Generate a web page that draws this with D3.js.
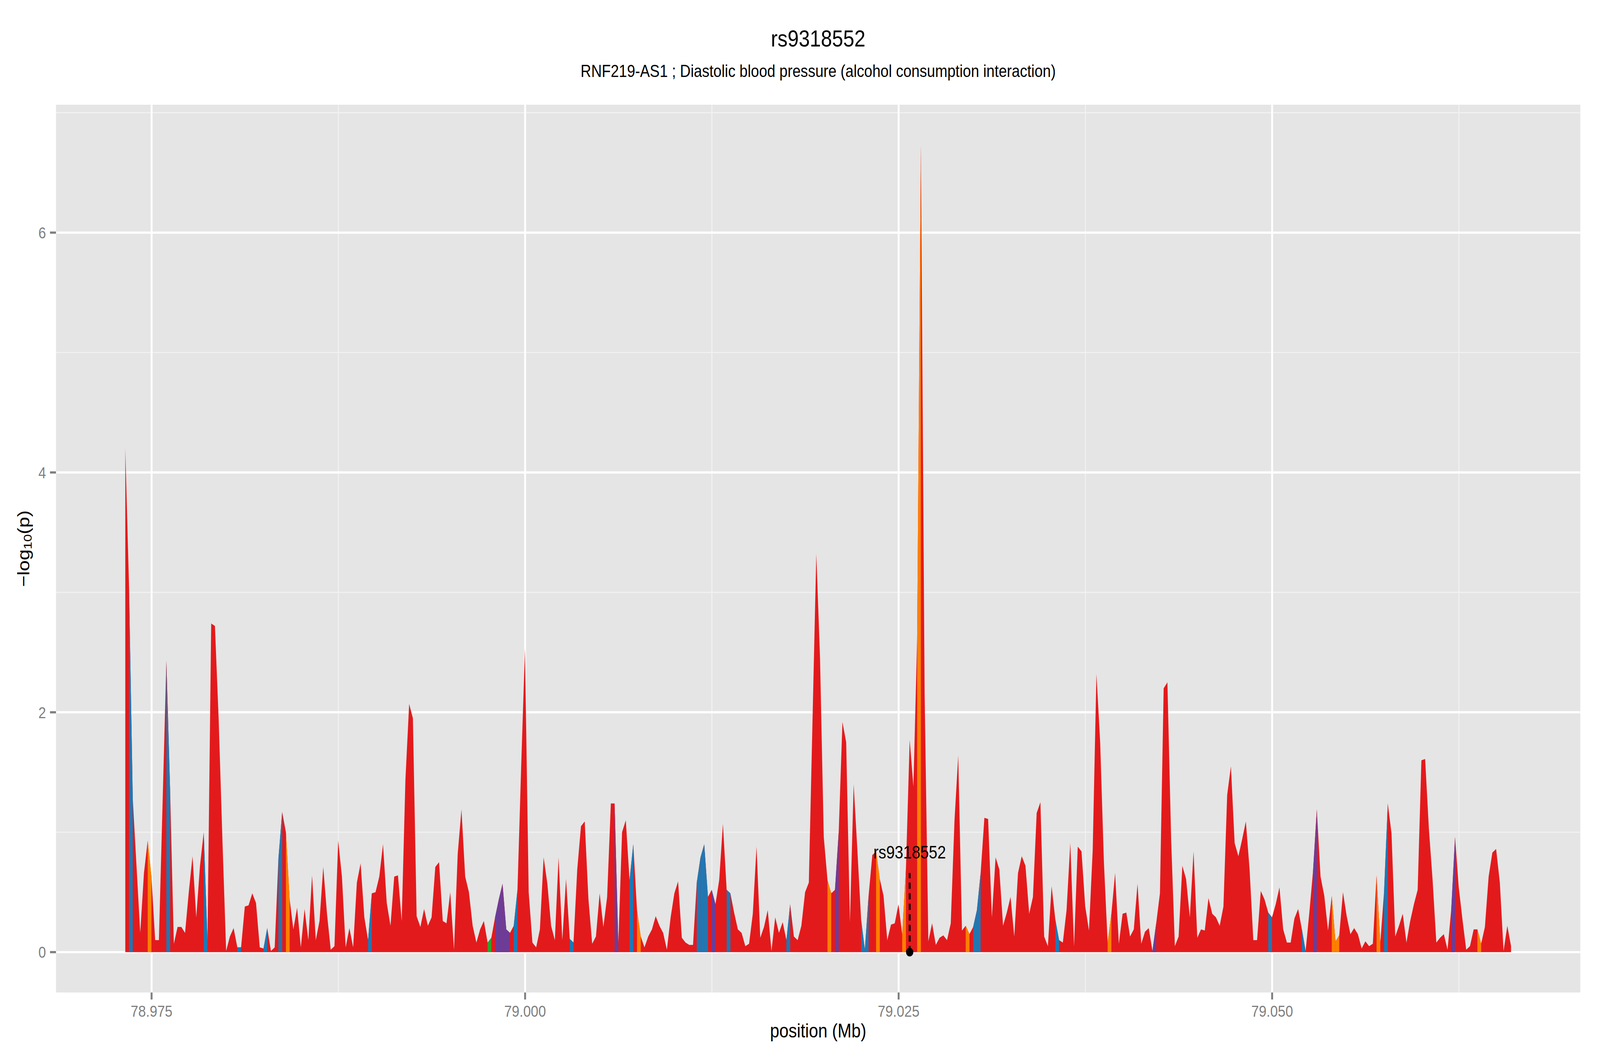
<!DOCTYPE html>
<html>
<head>
<meta charset="utf-8">
<script src="https://cdn.jsdelivr.net/npm/d3@7"></script>
<style>
  html, body { margin: 0; padding: 0; background: #fff; overflow: hidden; }
  #chart svg { display: block; }
  text { font-family: "Liberation Sans", Arial, Helvetica, sans-serif; }
</style>
</head>
<body>
<div id="chart"></div>
<script>
// SNP positions (kb) on chromosome 13
var posKb = [
  78973.24,78973.49,78973.74,78973.99,78974.24,78974.49,78974.74,78974.99,
  78975.24,78975.49,78975.74,78975.99,78976.24,78976.49,78976.74,78976.99,
  78977.24,78977.49,78977.74,78977.99,78978.24,78978.49,78978.74,78978.99,
  78979.24,78979.49,78979.74,78979.99,78980.24,78980.49,78980.74,78980.99,
  78981.24,78981.49,78981.74,78981.99,78982.24,78982.49,78982.74,78982.99,
  78983.24,78983.49,78983.74,78983.99,78984.24,78984.49,78984.74,78984.99,
  78985.24,78985.49,78985.74,78985.99,78986.24,78986.49,78986.74,78986.99,
  78987.24,78987.49,78987.74,78987.99,78988.24,78988.49,78988.74,78988.99,
  78989.24,78989.49,78989.74,78989.99,78990.24,78990.49,78990.74,78990.99,
  78991.24,78991.49,78991.74,78991.99,78992.24,78992.49,78992.74,78992.99,
  78993.24,78993.49,78993.74,78993.99,78994.24,78994.49,78994.74,78994.99,
  78995.24,78995.49,78995.74,78995.99,78996.24,78996.49,78996.74,78996.99,
  78997.24,78997.49,78997.74,78997.99,78998.24,78998.49,78998.74,78998.99,
  78999.24,78999.49,78999.74,78999.99,79000.24,79000.49,79000.74,79000.99,
  79001.24,79001.49,79001.74,79001.99,79002.24,79002.49,79002.74,79002.99,
  79003.24,79003.49,79003.74,79003.99,79004.24,79004.49,79004.74,79004.99,
  79005.24,79005.49,79005.74,79005.99,79006.24,79006.49,79006.74,79006.99,
  79007.24,79007.49,79007.74,79007.99,79008.24,79008.49,79008.74,79008.99,
  79009.24,79009.49,79009.74,79009.99,79010.24,79010.49,79010.74,79010.99,
  79011.24,79011.49,79011.74,79011.99,79012.24,79012.49,79012.74,79012.99,
  79013.24,79013.49,79013.74,79013.99,79014.24,79014.49,79014.74,79014.99,
  79015.24,79015.49,79015.74,79015.99,79016.24,79016.49,79016.74,79016.99,
  79017.24,79017.49,79017.74,79017.99,79018.24,79018.49,79018.74,79018.99,
  79019.24,79019.49,79019.74,79019.99,79020.24,79020.49,79020.74,79020.99,
  79021.24,79021.49,79021.74,79021.99,79022.24,79022.49,79022.74,79022.99,
  79023.24,79023.49,79023.74,79023.99,79024.24,79024.49,79024.74,79024.99,
  79025.24,79025.49,79025.74,79025.99,79026.24,79026.49,79026.74,79026.99,
  79027.24,79027.49,79027.74,79027.99,79028.24,79028.49,79028.74,79028.99,
  79029.24,79029.49,79029.74,79029.99,79030.24,79030.49,79030.74,79030.99,
  79031.24,79031.49,79031.74,79031.99,79032.24,79032.49,79032.74,79032.99,
  79033.24,79033.49,79033.74,79033.99,79034.24,79034.49,79034.74,79034.99,
  79035.24,79035.49,79035.74,79035.99,79036.24,79036.49,79036.74,79036.99,
  79037.24,79037.49,79037.74,79037.99,79038.24,79038.49,79038.74,79038.99,
  79039.24,79039.49,79039.74,79039.99,79040.24,79040.49,79040.74,79040.99,
  79041.24,79041.49,79041.74,79041.99,79042.24,79042.49,79042.74,79042.99,
  79043.24,79043.49,79043.74,79043.99,79044.24,79044.49,79044.74,79044.99,
  79045.24,79045.49,79045.74,79045.99,79046.24,79046.49,79046.74,79046.99,
  79047.24,79047.49,79047.74,79047.99,79048.24,79048.49,79048.74,79048.99,
  79049.24,79049.49,79049.74,79049.99,79050.24,79050.49,79050.74,79050.99,
  79051.24,79051.49,79051.74,79051.99,79052.24,79052.49,79052.74,79052.99,
  79053.24,79053.49,79053.74,79053.99,79054.24,79054.49,79054.74,79054.99,
  79055.24,79055.49,79055.74,79055.99,79056.24,79056.49,79056.74,79056.99,
  79057.24,79057.49,79057.74,79057.99,79058.24,79058.49,79058.74,79058.99,
  79059.24,79059.49,79059.74,79059.99,79060.24,79060.49,79060.74,79060.99,
  79061.24,79061.49,79061.74,79061.99,79062.24,79062.49,79062.74,79062.99,
  79063.24,79063.49,79063.74,79063.99,79064.24,79064.49,79064.74,79064.99,
  79065.24,79065.49,79065.74,79065.99
];

// -log10(p) at each position
var logP = [
  4.20,3.05,1.28,0.72,0.16,0.66,0.93,0.63,0.10,0.10,
  1.26,2.43,1.35,0.07,0.21,0.21,0.16,0.50,0.80,0.29,
  0.72,1.00,0.10,2.74,2.72,1.94,0.94,0.01,0.13,0.20,
  0.04,0.04,0.38,0.39,0.49,0.41,0.04,0.03,0.20,0.01,
  0.04,0.78,1.17,1.00,0.44,0.19,0.37,0.04,0.36,0.10,
  0.64,0.10,0.26,0.71,0.32,0.02,0.05,0.93,0.63,0.04,
  0.20,0.04,0.58,0.74,0.29,0.10,0.49,0.50,0.63,0.90,
  0.41,0.22,0.63,0.64,0.26,1.44,2.07,1.95,0.30,0.21,
  0.36,0.22,0.29,0.71,0.75,0.26,0.24,0.50,0.02,0.82,
  1.19,0.63,0.50,0.22,0.08,0.19,0.26,0.08,0.12,0.29,
  0.44,0.57,0.19,0.16,0.22,0.52,1.56,2.53,0.50,0.08,
  0.04,0.19,0.79,0.57,0.22,0.10,0.79,0.10,0.61,0.11,
  0.08,0.69,1.05,1.09,0.44,0.07,0.13,0.49,0.21,0.46,
  1.24,1.24,0.07,1.00,1.10,0.60,0.90,0.35,0.13,0.04,
  0.13,0.19,0.30,0.22,0.16,0.02,0.29,0.49,0.59,0.12,
  0.08,0.06,0.06,0.58,0.79,0.90,0.46,0.52,0.40,0.60,
  1.07,0.52,0.49,0.33,0.19,0.16,0.05,0.07,0.32,0.88,
  0.12,0.21,0.35,0.01,0.29,0.16,0.25,0.10,0.40,0.13,
  0.10,0.22,0.50,0.58,1.95,3.32,2.45,0.96,0.60,0.49,
  0.52,1.00,1.92,1.75,0.25,1.40,0.85,0.27,0.02,0.47,
  0.81,0.84,0.61,0.47,0.10,0.23,0.24,0.40,0.15,0.70,
  1.77,1.38,2.62,6.73,2.16,0.09,0.24,0.06,0.12,0.14,
  0.10,0.24,1.10,1.64,0.18,0.22,0.15,0.21,0.35,0.66,
  1.12,1.11,0.29,0.79,0.69,0.22,0.33,0.46,0.13,0.66,
  0.80,0.72,0.32,0.46,1.16,1.25,0.13,0.05,0.55,0.27,
  0.10,0.08,0.35,0.91,0.05,0.88,0.84,0.38,0.18,0.85,
  2.32,1.75,0.75,0.08,0.32,0.66,0.07,0.32,0.33,0.13,
  0.19,0.57,0.07,0.17,0.20,0.01,0.24,0.49,2.20,2.25,
  0.94,0.05,0.13,0.72,0.61,0.29,0.84,0.12,0.19,0.18,
  0.45,0.32,0.29,0.22,0.38,1.31,1.55,0.91,0.80,0.94,
  1.09,0.69,0.10,0.10,0.51,0.44,0.33,0.29,0.40,0.54,
  0.19,0.08,0.08,0.28,0.36,0.19,0.01,0.33,0.68,1.19,
  0.63,0.47,0.18,0.47,0.09,0.14,0.50,0.30,0.15,0.20,
  0.15,0.03,0.09,0.05,0.07,0.64,0.08,0.50,1.24,0.99,
  0.13,0.22,0.32,0.08,0.26,0.40,0.52,1.60,1.61,1.03,
  0.60,0.08,0.12,0.15,0.02,0.36,0.96,0.54,0.27,0.02,
  0.05,0.19,0.19,0.07,0.21,0.63,0.83,0.86,0.58,0.01,
  0.22,0.05
];

// LD classes (kb positions); everything else is drawn red
var ldBlue = [78973.49,78975.99,78978.49,78980.74,78982.49,78983.49,78989.49,78999.24,
  79002.99,79006.99,79011.49,79011.74,79011.99,79013.49,79017.49,79022.49,79022.74,
  79029.99,79030.24,79035.49,79049.74,79051.99,79057.49];
var ldOrange = [78974.74,78983.99,79007.49,79020.24,79023.49,79025.24,79026.24,79029.49,
  79038.99,79053.99,79054.24,79056.99,79063.74];
var ldPurple = [78997.99,78998.24,78998.49,78998.74,79005.99,79012.49,79020.74,79041.99,
  79052.74,79061.99];
var ldGreen = [78997.49];

var xTicks = [78.975, 79.000, 79.025, 79.050];
var xMinor = [78.9875, 79.0125, 79.0375, 79.0625];
var yTicks = [0, 2, 4, 6];
var yMinor = [1, 3, 5, 7];

var leadSnp = "rs9318552";
var leadPosKb = 79025.74;
var titleText = "rs9318552";
var subtitleText = "RNF219-AS1 ; Diastolic blood pressure (alcohol consumption interaction)";

// drawn in a 4800x2700 frame, stretched onto whatever the window is
var W = 4800, H = 2700;
var panel = {left: 168, right: 4741, top: 268, bottom: 2540};

var svg = d3.select("#chart").append("svg")
  .attr("viewBox", "0 0 " + W + " " + H)
  .attr("preserveAspectRatio", "none")
  .style("width", "100vw").style("height", "100vh")
  .style("background", "#fff");

var n = Math.min(posKb.length, logP.length);
var colorOf = {};
ldBlue.forEach(function (p) { colorOf[Math.round(p * 100)] = "#1F78B4"; });
ldOrange.forEach(function (p) { colorOf[Math.round(p * 100)] = "#FF7F00"; });
ldPurple.forEach(function (p) { colorOf[Math.round(p * 100)] = "#6A3D9A"; });
ldGreen.forEach(function (p) { colorOf[Math.round(p * 100)] = "#33A02C"; });

var pts = [];
for (var i = 0; i < n; i++) {
  pts.push({mb: posKb[i] / 1000, p: logP[i], col: colorOf[Math.round(posKb[i] * 100)] || null});
}

// ggplot-like 5% expansion
var xExt = d3.extent(pts, function (d) { return d.mb; });
var xPad = (xExt[1] - xExt[0]) * 0.05;
var yMax = d3.max(pts, function (d) { return d.p; });
var x = d3.scaleLinear().domain([xExt[0] - xPad, xExt[1] + xPad]).range([panel.left, panel.right]);
var y = d3.scaleLinear().domain([-0.05 * yMax, 1.05 * yMax]).range([panel.bottom, panel.top]);

svg.append("defs").append("clipPath").attr("id", "panelClip")
  .append("rect")
  .attr("x", panel.left).attr("y", panel.top)
  .attr("width", panel.right - panel.left).attr("height", panel.bottom - panel.top);

svg.append("rect")
  .attr("x", panel.left).attr("y", panel.top)
  .attr("width", panel.right - panel.left).attr("height", panel.bottom - panel.top)
  .attr("fill", "#E5E5E5");

var grid = svg.append("g").attr("clip-path", "url(#panelClip)");
grid.selectAll("line.ymin").data(yMinor).enter().append("line")
  .attr("x1", panel.left).attr("x2", panel.right)
  .attr("y1", function (d) { return y(d); }).attr("y2", function (d) { return y(d); })
  .attr("stroke", "#F2F2F2").attr("stroke-width", 2.8);
grid.selectAll("line.xmin").data(xMinor).enter().append("line")
  .attr("y1", panel.top).attr("y2", panel.bottom)
  .attr("x1", function (d) { return x(d); }).attr("x2", function (d) { return x(d); })
  .attr("stroke", "#F2F2F2").attr("stroke-width", 2.8);
grid.selectAll("line.ymaj").data(yTicks).enter().append("line")
  .attr("x1", panel.left).attr("x2", panel.right)
  .attr("y1", function (d) { return y(d); }).attr("y2", function (d) { return y(d); })
  .attr("stroke", "#fff").attr("stroke-width", 5.7);
grid.selectAll("line.xmaj").data(xTicks).enter().append("line")
  .attr("y1", panel.top).attr("y2", panel.bottom)
  .attr("x1", function (d) { return x(d); }).attr("x2", function (d) { return x(d); })
  .attr("stroke", "#fff").attr("stroke-width", 5.7);

var area = d3.area()
  .x(function (d) { return x(d.mb); })
  .y0(y(0))
  .y1(function (d) { return y(d.p); });

var plot = svg.append("g").attr("clip-path", "url(#panelClip)");
plot.append("path").datum(pts).attr("d", area).attr("fill", "#E31A1C");

// coloured segments: from a SNP to the next one, in that SNP's LD colour
var segs = [];
for (var j = 0; j < n - 1; j++) {
  if (pts[j].col) segs.push({col: pts[j].col, pair: [pts[j], pts[j + 1]]});
}
plot.selectAll("path.seg").data(segs).enter().append("path")
  .attr("d", function (d) { return area(d.pair); })
  .attr("fill", function (d) { return d.col; });

// lead SNP marker
var lx = x(leadPosKb / 1000);
plot.append("line")
  .attr("x1", lx).attr("x2", lx)
  .attr("y1", y(0)).attr("y2", y(0.66))
  .attr("stroke", "#000").attr("stroke-width", 5.7)
  .attr("stroke-dasharray", "16,11");
plot.append("circle").attr("cx", lx).attr("cy", y(0)).attr("r", 11).attr("fill", "#000");
svg.append("text")
  .attr("x", lx).attr("y", y(0.78))
  .attr("text-anchor", "middle").attr("font-size", 46).attr("fill", "#000")
  .text(leadSnp);

// axes
var tickCol = "#7F7F7F";
svg.selectAll("line.xt").data(xTicks).enter().append("line")
  .attr("x1", function (d) { return x(d); }).attr("x2", function (d) { return x(d); })
  .attr("y1", panel.bottom).attr("y2", panel.bottom + 18)
  .attr("stroke", tickCol).attr("stroke-width", 5.7);
svg.selectAll("text.xt").data(xTicks).enter().append("text")
  .attr("x", function (d) { return x(d); }).attr("y", 2602)
  .attr("text-anchor", "middle").attr("font-size", 41).attr("fill", tickCol)
  .text(function (d) { return d3.format(".3f")(d); });

svg.selectAll("line.yt").data(yTicks).enter().append("line")
  .attr("x1", panel.left - 18).attr("x2", panel.left)
  .attr("y1", function (d) { return y(d); }).attr("y2", function (d) { return y(d); })
  .attr("stroke", tickCol).attr("stroke-width", 5.7);
svg.selectAll("text.yt").data(yTicks).enter().append("text")
  .attr("x", 138).attr("y", function (d) { return y(d); })
  .attr("dy", "0.36em")
  .attr("text-anchor", "end").attr("font-size", 41).attr("fill", tickCol)
  .text(function (d) { return d; });

var cx = (panel.left + panel.right) / 2;
svg.append("text")
  .attr("x", cx).attr("y", 2655)
  .attr("text-anchor", "middle").attr("font-size", 50).attr("fill", "#000")
  .text("position (Mb)");

var yt = svg.append("text")
  .attr("transform", "translate(88," + ((panel.top + panel.bottom) / 2) + ") rotate(-90)")
  .attr("text-anchor", "middle").attr("font-size", 50).attr("fill", "#000");
yt.append("tspan").text("\u2212log");
yt.append("tspan").attr("font-size", 35).attr("dy", 7).text("10");
yt.append("tspan").attr("dy", -7).text("(p)");

svg.append("text")
  .attr("x", cx).attr("y", 119)
  .attr("text-anchor", "middle").attr("font-size", 60).attr("fill", "#000")
  .text(titleText);
svg.append("text")
  .attr("x", cx).attr("y", 197)
  .attr("text-anchor", "middle").attr("font-size", 44).attr("fill", "#000")
  .text(subtitleText);
</script>
</body>
</html>
